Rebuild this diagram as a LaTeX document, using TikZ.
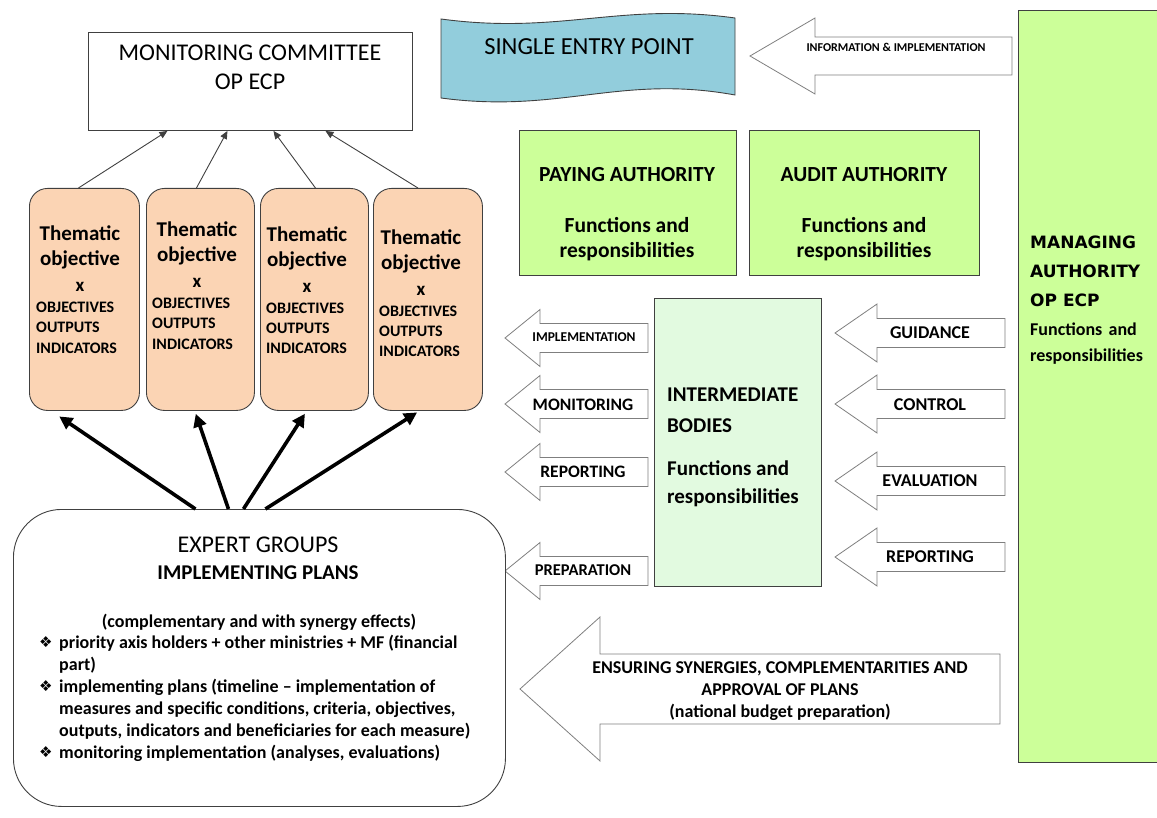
\documentclass[tikz,border=0pt]{standalone}
\usepackage{fontspec}
\setmainfont{Carlito}
\newfontfamily\dejavu{DejaVu Sans}
\usetikzlibrary{arrows.meta}
\definecolor{peach}{HTML}{FBD4B4}
\definecolor{bannerblue}{HTML}{92CDDC}
\definecolor{lime}{HTML}{CCFF99}
\definecolor{palegreen}{RGB}{226,250,224}
\definecolor{edge}{HTML}{404040}
\definecolor{arrowedge}{HTML}{7F7F7F}
\newcommand\fs[1]{\fontsize{#1}{#1}\selectfont}
\newcommand\larrow[6]{\draw[barrow] (#1,#2) -- (#3,{#2-#5}) -- (#3,{#2-#6}) -- (#4,{#2-#6}) -- (#4,{#2+#6}) -- (#3,{#2+#6}) -- (#3,{#2+#5}) -- cycle;}
\tikzset{
  boxe/.style={draw=edge, line width=0.9pt, inner sep=0pt, anchor=north west},
  txt/.style={inner sep=0pt, anchor=base},
  txtl/.style={inner sep=0pt, anchor=base west},
  barrow/.style={draw=arrowedge, fill=white, line width=0.8pt, line join=miter},
  thin/.style={draw=edge, line width=0.9pt, -{Triangle[length=8pt,width=7pt]}},
  thick/.style={draw=black, line width=3.6pt, -{Triangle[length=13pt,width=13pt]}, shorten >=1pt},
  tob/.style={draw=edge, line width=0.9pt, fill=peach, rounded corners=18pt, inner sep=0pt, anchor=north west, minimum height=222pt},
}
\begin{document}
\begin{tikzpicture}[x=1pt,y=-1pt]
\useasboundingbox (0,0) rectangle (1157,818);

% Monitoring committee
\node[boxe, minimum width=324pt, minimum height=98pt] (mc) at (88,32) {};
\node[txt, font=\fs{24}] (mc1) at (250,61) {MONITORING COMMITTEE};
\node[txt, font=\fs{24}] (mc2) at (250,90) {OP ECP};

% Single entry point banner
\draw[draw=edge, line width=0.9pt, fill=bannerblue]
  (441,19) .. controls (560,35) and (620,2) .. (735,18)
  -- (735,95) .. controls (620,74) and (560,114) .. (441,98) -- cycle;
\node[txt, font=\fs{24.5}] (sep) at (589,55) {SINGLE ENTRY POINT};

% Information & implementation arrow
\larrow{750}{56}{815}{1012}{38}{19}
\node[txt, font=\fs{12}\bfseries] (info) at (896,52) {INFORMATION \& IMPLEMENTATION};

% Managing authority
\node[boxe, fill=lime, minimum width=150pt, minimum height=752pt] (ma) at (1018,10) {};
\node[txtl, font=\dejavu\fs{17}\bfseries] (ma1) at (1030,249) {MANAGING};
\node[txtl, font=\dejavu\fs{17}\bfseries] (ma2) at (1030,278) {AUTHORITY};
\node[txtl, font=\dejavu\fs{17}\bfseries] (ma3) at (1030,307) {OP ECP};
\node[txtl, font=\fs{18}\bfseries] (ma4) at (1030,336) {Functions\hspace{0.35em}and};
\node[txtl, font=\fs{18}\bfseries] (ma5) at (1030,362) {responsibilities};

% Paying and audit authority
\node[boxe, fill=lime, minimum width=217pt, minimum height=145pt] (pa) at (519,130) {};
\node[txt, font=\fs{21.5}\bfseries] (pa1) at (627,182) {PAYING AUTHORITY};
\node[txt, font=\fs{21.5}\bfseries] (pa2) at (627,233) {Functions and};
\node[txt, font=\fs{21.5}\bfseries] (pa3) at (627,258) {responsibilities};
\node[boxe, fill=lime, minimum width=230pt, minimum height=145pt] (aa) at (749,130) {};
\node[txt, font=\fs{21.5}\bfseries] (aa1) at (864,182) {AUDIT AUTHORITY};
\node[txt, font=\fs{21.5}\bfseries] (aa2) at (864,233) {Functions and};
\node[txt, font=\fs{21.5}\bfseries] (aa3) at (864,258) {responsibilities};

% Intermediate bodies
\node[boxe, fill=palegreen, minimum width=167pt, minimum height=288pt] (ib) at (654,298) {};
\node[txtl, font=\fs{21}\bfseries] (ib1) at (667,401) {INTERMEDIATE};
\node[txtl, font=\fs{21}\bfseries] (ib2) at (667,432) {BODIES};
\node[txtl, font=\fs{21}\bfseries] (ib3) at (667,475) {Functions and};
\node[txtl, font=\fs{21}\bfseries] (ib4) at (667,503) {responsibilities};

% Left pointing arrows out of intermediate bodies
\larrow{505}{338}{540}{648}{28.5}{14.5}
\larrow{505}{404}{540}{648}{28.5}{14.5}
\larrow{505}{472}{540}{648}{28.5}{14.5}
\larrow{505}{571}{540}{648}{28.5}{14.5}
\node[txt, font=\fs{13.5}\bfseries] (l1) at (584,342) {IMPLEMENTATION};
\node[txt, font=\fs{17.5}\bfseries] (l2) at (583,410) {MONITORING};
\node[txt, font=\fs{17.5}\bfseries] (l3) at (583,477) {REPORTING};
\node[txt, font=\fs{16.5}\bfseries] (l4) at (583,575) {PREPARATION};

% Arrows from managing authority
\larrow{835}{333}{877}{1005}{29}{14.5}
\larrow{835}{404}{877}{1005}{29}{14.5}
\larrow{835}{481}{877}{1005}{29}{14.5}
\larrow{835}{557}{877}{1005}{29}{14.5}
\node[txt, font=\fs{18}\bfseries] (r1) at (930,338) {GUIDANCE};
\node[txt, font=\fs{18}\bfseries] (r2) at (930,410) {CONTROL};
\node[txt, font=\fs{18}\bfseries] (r3) at (930,486) {EVALUATION};
\node[txt, font=\fs{18}\bfseries] (r4) at (930,562) {REPORTING};

% Ensuring synergies arrow
\larrow{520}{689}{600}{1000}{72}{35}
\node[txt, font=\fs{18}\bfseries] (en1) at (780,673) {ENSURING SYNERGIES, COMPLEMENTARITIES AND};
\node[txt, font=\fs{18}\bfseries] (en2) at (780,695) {APPROVAL OF PLANS};
\node[txt, font=\fs{18}\bfseries] (en3) at (780,717) {(national budget preparation)};

% Thematic objective boxes
\node[tob, minimum width=110pt] (t1) at (29,188) {};
\node[tob, minimum width=108pt] (t2) at (146,188) {};
\node[tob, minimum width=108pt] (t3) at (260,188) {};
\node[tob, minimum width=109pt] (t4) at (373,188) {};

\foreach \n/\cx/\lx/\dy in {1/80/36/0, 2/197/152/-4, 3/307/266/1, 4/421/379/4}{
  \node[txt, font=\fs{21}\bfseries] (t\n a) at (\cx,241+\dy) {Thematic};
  \node[txt, font=\fs{21}\bfseries] (t\n b) at (\cx,266+\dy) {objective};
  \node[txt, font=\fs{19}\bfseries] (t\n c) at (\cx,292+\dy) {x};
  \node[txtl, font=\fs{16}\bfseries] (t\n d) at (\lx,313+\dy) {OBJECTIVES};
  \node[txtl, font=\fs{16}\bfseries] (t\n e) at (\lx,333+\dy) {OUTPUTS};
  \node[txtl, font=\fs{16}\bfseries] (t\n f) at (\lx,353+\dy) {INDICATORS};
}

% thin arrows to monitoring committee
\draw[thin] ([xshift=-6pt]t1.north) -- ([xshift=-83pt]mc.south);
\draw[thin] ([xshift=-4pt]t2.north) -- ([xshift=-23pt]mc.south);
\draw[thin] ([xshift=1pt]t3.north) -- ([xshift=23pt]mc.south);
\draw[thin] ([xshift=-10pt]t4.north) -- ([xshift=75pt]mc.south);

% Expert groups
\node[draw=edge, line width=0.9pt, fill=white, rounded corners=48pt, inner sep=0pt, anchor=north west,
      minimum width=492pt, minimum height=297pt] (eg) at (13,509) {};
\node[txt, font=\fs{24}] (eg1) at (258,552) {EXPERT GROUPS};
\node[txt, font=\fs{21}\bfseries] (eg2) at (258,579) {IMPLEMENTING PLANS};
\node[txt, font=\fs{18}\bfseries] (eg3) at (259,627) {(complementary and with synergy effects)};
\node[txtl, font=\dejavu\fs{15}] (b1) at (39,647) {❖};
\node[txtl, font=\dejavu\fs{15}] (b2) at (39,691) {❖};
\node[txtl, font=\dejavu\fs{15}] (b3) at (39,757) {❖};
\node[txtl, font=\fs{18}\bfseries] (eg4) at (59,648) {priority axis holders + other ministries + MF (financial};
\node[txtl, font=\fs{18}\bfseries] (eg5) at (59,670) {part)};
\node[txtl, font=\fs{18}\bfseries] (eg6) at (59,692) {implementing plans (timeline – implementation of};
\node[txtl, font=\fs{18}\bfseries] (eg7) at (59,714) {measures and specific conditions, criteria, objectives,};
\node[txtl, font=\fs{18}\bfseries] (eg8) at (59,736) {outputs, indicators and beneficiaries for each measure)};
\node[txtl, font=\fs{18}\bfseries] (eg9) at (59,758) {monitoring implementation (analyses, evaluations)};

% thick arrows from expert groups to thematic objectives
\draw[thick] ([xshift=-64pt]eg.north) -- ([xshift=-26pt,yshift=-5pt]t1.south);
\draw[thick] ([xshift=-31pt]eg.north) -- ([xshift=-5pt,yshift=-2pt]t2.south);
\draw[thick] ([xshift=-16pt]eg.north) -- ([xshift=-9pt,yshift=-2pt]t3.south);
\draw[thick] ([xshift=6pt]eg.north) -- ([xshift=-10pt,yshift=-1pt]t4.south);
\end{tikzpicture}
\end{document}
